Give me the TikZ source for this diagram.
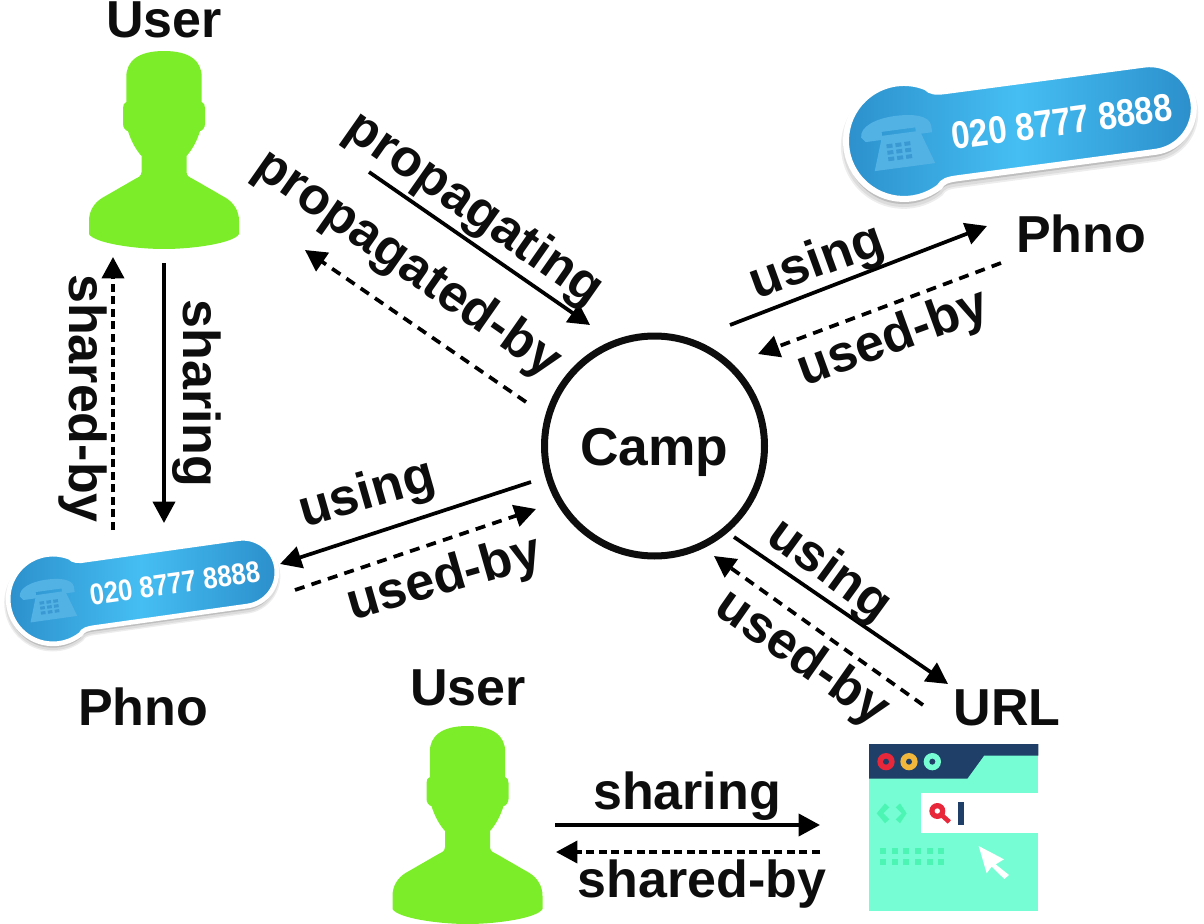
\documentclass[tikz,border=0pt]{standalone}
\usepackage{fontspec}
\setmainfont{Liberation Sans}
\usetikzlibrary{arrows.meta}
\definecolor{usergreen}{HTML}{7BEE29}
\definecolor{mint}{HTML}{76FDD3}
\definecolor{navybar}{HTML}{1F3F68}
\definecolor{redbtn}{HTML}{E8283A}
\definecolor{yellowbtn}{HTML}{F0B73C}
\definecolor{deepmint}{HTML}{4DF5B5}
\definecolor{badgedark}{HTML}{2B8ECB}
\definecolor{badgelight}{HTML}{45BEF3}
\definecolor{iconblue}{HTML}{53B2E4}
\definecolor{keyblue}{HTML}{3A98D2}
\newcommand{\badgeoutline}{(48,-44) -- (248,-44) arc[start angle=-90,end angle=90,radius=44] -- (48,44) .. controls (38,44) and (33,45) .. (29,50.2) arc[start angle=60,end angle=300,radius=58] .. controls (33,-45) and (38,-44) .. cycle}
\tikzset{
  x=.75pt,y=-.75pt,
  lbl/.style={font=\bfseries\fontsize{39}{46}\selectfont,inner sep=0pt,anchor=base,text=black!95},
  solidarrow/.style={line width=2.8pt,-{Triangle[length=16pt,width=16.5pt]}},
  dashedarrow/.style={line width=2.8pt,dash pattern=on 7.5pt off 5.5pt,-{Triangle[length=16pt,width=16.5pt]}},
  dashedflat/.style={line width=2.8pt,dash pattern=on 6pt off 3.4pt,-{Triangle[length=16pt,width=16.5pt]}},
  pics/person/.style={code={
    \fill[usergreen] (0,0) .. controls (-26,0) and (-37.7,10) .. (-37.7,26) -- (-37.7,51)
      .. controls (-40,52) and (-41,54) .. (-41,57) -- (-41,73) .. controls (-41,77) and (-38,80) .. (-36,80)
      .. controls (-33,90) and (-28,99) .. (-22.5,105) -- (-22.5,121) .. controls (-22.5,125) and (-26,127) .. (-29,128)
      -- (-62,147) .. controls (-70,152) and (-75,160) .. (-75,170) -- (-75,183)
      .. controls (-70,192) and (-30,198) .. (0,198)
      .. controls (30,198) and (70,192) .. (75,183) -- (75,170)
      .. controls (75,160) and (70,152) .. (62,147) -- (29,128)
      .. controls (26,127) and (22.5,125) .. (22.5,121) -- (22.5,105)
      .. controls (28,99) and (33,90) .. (36,80) .. controls (38,80) and (41,77) .. (41,73)
      -- (41,57) .. controls (41,54) and (40,52) .. (37.7,51) -- (37.7,26)
      .. controls (37.7,10) and (26,0) .. (0,0) -- cycle;
  }},
  pics/badge/.style={code={
    \begin{scope}[shift={(-1,5)}]
      \path[fill=black,draw=black,opacity=.07,line width=#1*1.6] \badgeoutline;
      \path[fill=black,draw=black,opacity=.07,line width=#1] \badgeoutline;
    \end{scope}
    \path[left color=badgedark,right color=badgedark,middle color=badgelight,draw=white,line width=#1] \badgeoutline;
    \fill[iconblue] (-42,-9) .. controls (-42,-20) and (-25,-26) .. (-6,-26) .. controls (13,-26) and (28,-22) .. (29,-12)
      -- (29,-5) -- (13,-5) -- (13,-12) -- (-21,-12) -- (-21,-4) -- (-38,-4) -- cycle;
    \fill[iconblue] (-21,-8) -- (17,-8) -- (28,26) -- (-33,26) -- cycle;
    \foreach \kx in {-15,-6,3} \foreach \ky in {3,9.5,16}
      \fill[keyblue] (\kx-3,\ky-2) rectangle (\kx+3,\ky+2);
    \node[font=\bfseries\fontsize{29}{32}\selectfont,text=white,inner sep=0pt,transform shape,xscale=.86] (num) at (159,2) {020 8777 8888};
  }}
}
\begin{document}
\begin{tikzpicture}
\useasboundingbox (0,0) rectangle (1204,924);

% icons
\pic (userA) at (164,51) {person};
\pic (userB) at (467.5,726) {person};
\pic[rotate=7.6] (phoneA) at (904,141) {badge=4.5pt};
\pic[rotate=8,scale=.773] (phoneB) at (53,599) {badge=3.5pt};

\begin{scope}[shift={(850,730)},x=.25pt,y=-.25pt]
  \fill[mint] (57,42) rectangle (565,543);
  \fill[navybar] (57,42) -- (565,42) -- (565,77) -- (402,77) -- (352,146) -- (57,146) -- cycle;
  \fill[redbtn] (108,95) circle[radius=26];
  \fill[yellowbtn] (177,95) circle[radius=26];
  \fill[mint] (247,95) circle[radius=26];
  \foreach \bx in {108,177,247} \fill[navybar] (\bx,95) circle[radius=9];
  \fill[white] (213,190) rectangle (565,310);
  \draw[redbtn,line width=3.5pt] (275,255) -- (298,276);
  \fill[redbtn] (262,243) circle[radius=24];
  \fill[white] (262,243) circle[radius=8];
  \fill[navybar] (325,215) rectangle (342,285);
  \fill[deepmint] (105,220) -- (118,232) -- (100,250) -- (118,268) -- (105,280) -- (80,250) -- cycle;
  \fill[deepmint] (150,220) -- (170,250) -- (150,280) -- (137,268) -- (155,250) -- (137,232) -- cycle;
  \foreach \dx in {90,125,160,195,230,265} \foreach \dy in {353,388}
    \fill[deepmint] (\dx,\dy) rectangle (\dx+18,\dy+18);
  \fill[white] (386,348) -- (462,388) -- (437,403) -- (477,435) -- (463,447) -- (425,410) -- (410,430) -- cycle;
\end{scope}

% centre
\node[circle,draw=black!95,line width=5.25pt,minimum size=220*.75pt,inner sep=0pt] (camp) at (654.5,446) {};
\node[lbl,font=\bfseries\fontsize{40}{46}\selectfont] (camptext) at (654.5,465) {Camp};

% entity labels
\node[lbl] (userAtext) at (164,38) {User};
\node[lbl] (userBtext) at (468,705) {User};
\node[lbl] (phnoAtext) at (1081,252) {Phno};
\node[lbl] (phnoBtext) at (143,725) {Phno};
\node[lbl] (urltext) at (1007,725) {URL};

% connector ends
\coordinate (a1) at (369,172); \coordinate (a2) at (590,325);
\coordinate (b1) at (526,402); \coordinate (b2) at (305,250);
\coordinate (c1) at (164,263); \coordinate (c2) at (164,523);
\coordinate (d1) at (113,530); \coordinate (d2) at (113,257);
\coordinate (e1) at (730,325); \coordinate (e2) at (987,226);
\coordinate (f1) at (1001,263); \coordinate (f2) at (758,354);
\coordinate (g1) at (531,482); \coordinate (g2) at (280,564);
\coordinate (h1) at (295,590); \coordinate (h2) at (536,509);
\coordinate (i1) at (734,537); \coordinate (i2) at (948,684);
\coordinate (j1) at (923,705); \coordinate (j2) at (714,556);
\coordinate (k1) at (555,825); \coordinate (k2) at (820,825);
\coordinate (l1) at (820,852); \coordinate (l2) at (556,852);

\draw[solidarrow] (a1) -- (a2);
\draw[dashedarrow] (b1) -- (b2);
\draw[solidarrow] (c1) -- (c2);
\draw[dashedflat] (d1) -- (d2);
\draw[solidarrow] (e1) -- (e2);
\draw[dashedarrow] (f1) -- (f2);
\draw[solidarrow] (g1) -- (g2);
\draw[dashedarrow] (h1) -- (h2);
\draw[solidarrow] (i1) -- (i2);
\draw[dashedarrow] (j1) -- (j2);
\draw[solidarrow] (k1) -- (k2);
\draw[dashedflat] (l1) -- (l2);

% connector labels
\node[lbl,rotate=-35] (t1) at (466,221) {propagating};
\node[lbl,rotate=-35] (t2) at (399,276) {propagated-by};
\node[lbl,rotate=-90] (t3) at (183,393.5) {sharing};
\node[lbl,rotate=-90] (t4) at (69,398.5) {shared-by};
\node[lbl,rotate=20] (t5) at (822,276) {using};
\node[lbl,rotate=20] (t6) at (898,352) {used-by};
\node[lbl,rotate=16] (t7) at (371,508) {using};
\node[lbl,rotate=16] (t8) at (448,593) {used-by};
\node[lbl,rotate=-36] (t9) at (821,582) {using};
\node[lbl,rotate=-35] (t10) at (794,670) {used-by};
\node[lbl] (t11) at (687,809) {sharing};
\node[lbl] (t12) at (702,897) {shared-by};
\end{tikzpicture}
\end{document}
